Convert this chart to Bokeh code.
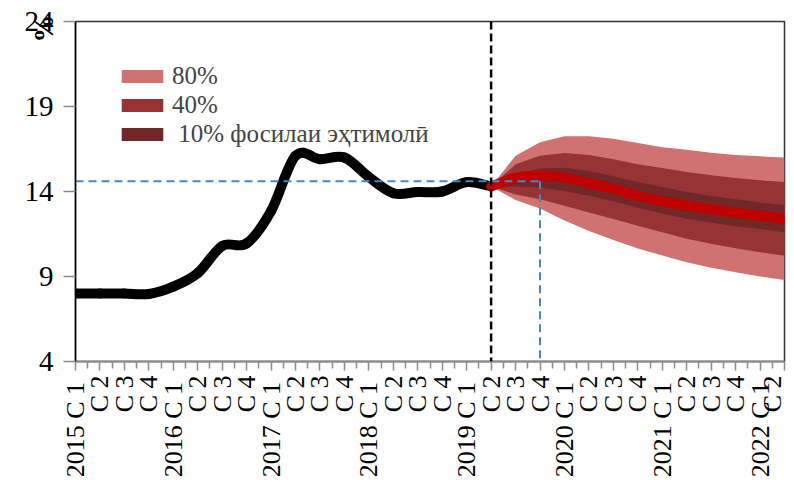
import math
from bokeh.plotting import figure
from bokeh.models import FixedTicker, Legend, LegendItem, Span, Range1d, ColumnDataSource
from bokeh.embed import file_html
from bokeh.resources import INLINE

# ---------------- data ----------------
years = [2015, 2016, 2017, 2018, 2019, 2020, 2021, 2022]
quarters = ["C 1", "C 2", "C 3", "C 4"]
n_periods = 30  # 2015 C1 .. 2022 C2

actual = [8.0, 8.0, 8.0, 7.97, 8.4, 9.2, 10.8, 10.95, 12.85, 16.1, 15.9, 16.0,
          14.85, 13.9, 13.97, 14.0, 14.55, 14.3]
forecast_start = 17  # 2019 C2

central = [14.3, 14.8, 14.92, 14.8, 14.5, 14.15, 13.75, 13.42, 13.17, 12.95, 12.75, 12.58, 12.4]
band80_hi = [14.3, 16.1, 16.9, 17.25, 17.25, 17.1, 16.85, 16.6, 16.45, 16.28, 16.15, 16.07, 16.0]
band40_hi = [14.3, 15.6, 16.1, 16.26, 16.15, 15.9, 15.6, 15.38, 15.15, 14.95, 14.8, 14.66, 14.56]
band10_hi = [14.3, 15.0, 15.35, 15.4, 15.2, 14.9, 14.56, 14.27, 13.97, 13.74, 13.55, 13.35, 13.2]
band10_lo = [14.3, 14.3, 14.23, 14.03, 13.75, 13.43, 13.04, 12.7, 12.4, 12.18, 11.96, 11.8, 11.6]
band40_lo = [14.3, 13.82, 13.55, 13.16, 12.77, 12.38, 11.99, 11.6, 11.22, 10.92, 10.66, 10.43, 10.22]
band80_lo = [14.3, 13.5, 13.0, 12.3, 11.67, 11.15, 10.65, 10.23, 9.84, 9.52, 9.25, 9.0, 8.8]

target_rate = 14.6
marker_period = 19  # 2019 C4

y_ticks = [4, 9, 14, 19, 24]
y_unit = "%"
legend_labels = ["80%", "40%", "\u00a010% фосилаи эҳтимолӣ"]
band_colors = ["#D07272", "#963335", "#722729"]

# ---------------- helpers ----------------
def period_label(i):
    y = years[i // 4]
    q = quarters[i % 4]
    return f"{y}  {q}" if i % 4 == 0 else q

def bezier_segments(xs, ys):
    n = len(xs)
    d = dict(x0=[], y0=[], x1=[], y1=[], cx0=[], cy0=[], cx1=[], cy1=[])
    for i in range(n - 1):
        a = max(i - 1, 0)
        b = min(i + 2, n - 1)
        d["x0"].append(xs[i]); d["y0"].append(ys[i])
        d["x1"].append(xs[i + 1]); d["y1"].append(ys[i + 1])
        d["cx0"].append(xs[i] + (xs[i + 1] - xs[a]) / 6.0)
        d["cy0"].append(ys[i] + (ys[i + 1] - ys[a]) / 6.0)
        d["cx1"].append(xs[i + 1] - (xs[b] - xs[i]) / 6.0)
        d["cy1"].append(ys[i + 1] - (ys[b] - ys[i]) / 6.0)
    return ColumnDataSource(d)

FONT = "Liberation Serif"

x_act = list(range(len(actual)))
x_fc = list(range(forecast_start, forecast_start + len(central)))

p = figure(width=786, height=480, output_backend="svg", toolbar_location=None,
           x_range=Range1d(0, n_periods - 1), y_range=Range1d(4, 24),
           min_border_left=75, min_border_right=2, min_border_top=21, min_border_bottom=118)
p.xgrid.visible = False
p.ygrid.visible = False
p.background_fill_color = "white"
p.border_fill_color = "white"
p.outline_line_color = "#333333"
p.outline_line_width = 1.5

# bands
r80 = p.varea(x=x_fc, y1=band80_lo, y2=band80_hi, fill_color=band_colors[0])
r40 = p.varea(x=x_fc, y1=band40_lo, y2=band40_hi, fill_color=band_colors[1])
r10 = p.varea(x=x_fc, y1=band10_lo, y2=band10_hi, fill_color=band_colors[2])

# actual line (smoothed)
p.bezier(x0="x0", y0="y0", x1="x1", y1="y1", cx0="cx0", cy0="cy0", cx1="cx1", cy1="cy1",
         source=bezier_segments(x_act, actual), line_color="black", line_width=10, line_cap="round")
# central forecast
p.bezier(x0="x0", y0="y0", x1="x1", y1="y1", cx0="cx0", cy0="cy0", cx1="cx1", cy1="cy1",
         source=bezier_segments(x_fc, central), line_color="#C00000", line_width=10, line_cap="round")

# blue guide lines
p.line(x=[0, marker_period], y=[target_rate, target_rate], line_color="#4A85C5",
       line_width=2, line_dash="8 5")
p.line(x=[marker_period, marker_period], y=[target_rate, y_ticks[0]], line_color="#4A85C5",
       line_width=2, line_dash="8 5")

# forecast start dashed line
p.add_layout(Span(location=forecast_start, dimension="height", line_color="black",
                  line_width=2.5, line_dash="8 4"))

# axes
xa = p.xaxis[0]
xa.ticker = FixedTicker(ticks=list(range(n_periods)),
                        minor_ticks=[i + 0.5 for i in range(n_periods - 1)])
xa.major_label_overrides = {i: period_label(i) for i in range(n_periods)}
xa.major_label_orientation = math.pi / 2
xa.major_label_text_font = FONT
xa.major_label_text_font_size = "26px"
xa.major_label_text_color = "black"
xa.axis_line_color = "#8C8C8C"
xa.axis_line_width = 2
xa.major_tick_line_color = "#8C8C8C"
xa.minor_tick_line_color = "#8C8C8C"
xa.major_tick_line_width = 1.5
xa.minor_tick_line_width = 1.5
xa.major_tick_in = 0
xa.major_tick_out = 9
xa.minor_tick_in = 0
xa.minor_tick_out = 7
xa.major_label_standoff = 5

ya = p.yaxis[0]
ya.ticker = FixedTicker(ticks=y_ticks)
ya.minor_tick_line_color = None
ya.major_tick_in = 0
ya.major_tick_out = 12
ya.major_tick_line_color = "#8C8C8C"
ya.major_tick_line_width = 1.5
ya.axis_line_color = "black"
ya.axis_line_width = 1.5
ya.major_label_text_font = FONT
ya.major_label_text_font_size = "29px"
ya.major_label_text_color = "black"
ya.major_label_standoff = 10

# "%" unit label as the axis label, pushed to the top end and into the tick-label column
ya.axis_label = y_unit + "\u00a0\u00a0"
ya.axis_label_text_font = FONT
ya.axis_label_text_font_size = "28px"
ya.axis_label_text_font_style = "bold"
ya.axis_label_text_color = "black"
ya.axis_label_standoff = -37
for _val in ("end", "right", "top"):
    try:
        ya.axis_label_align = _val
        break
    except Exception:
        pass

legend = Legend(items=[LegendItem(label=legend_labels[0], renderers=[r80]),
                       LegendItem(label=legend_labels[1], renderers=[r40]),
                       LegendItem(label=legend_labels[2], renderers=[r10])],
                location=(41, 213), glyph_width=52, glyph_height=16, label_standoff=4,
                padding=0, margin=0, spacing=0, label_height=29,
                label_text_font=FONT, label_text_font_size="25px",
                border_line_alpha=0, background_fill_alpha=0)
p.add_layout(legend)

open("out.html", "w").write(file_html(p, INLINE))
